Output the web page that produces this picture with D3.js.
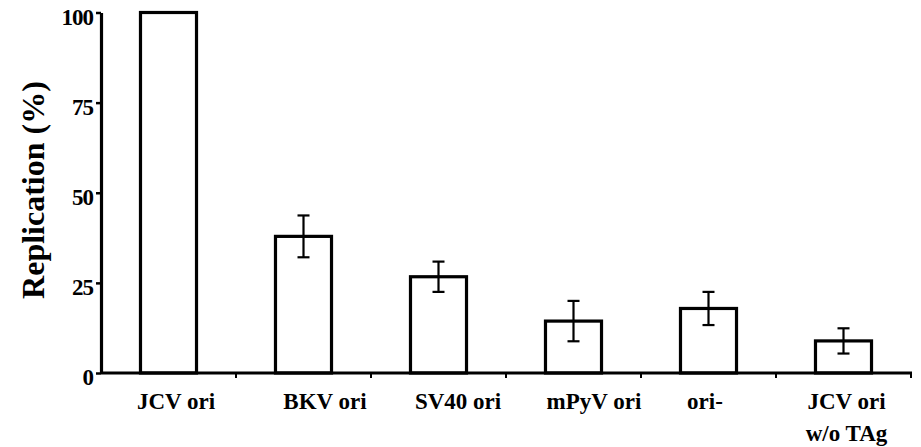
<!DOCTYPE html>
<html>
<head>
<meta charset="utf-8">
<script src="https://cdn.jsdelivr.net/npm/d3@7"></script>
<style>
  html, body { margin: 0; padding: 0; background: #fff; }
  svg { display: block; }
</style>
</head>
<body>
<svg id="chart" width="921" height="447"></svg>
<script>
// ---- data ----
const categories = ["JCV ori", "BKV ori", "SV40 ori", "mPyV ori", "ori-", "JCV ori\nw/o TAg"];
const values = [100, 37.9, 26.7, 14.4, 17.9, 8.9];
const errors = [0, 5.8, 4.2, 5.6, 4.6, 3.5];
const yTicks = [0, 25, 50, 75, 100];
const yTitle = "Replication (%)";

// ---- layout ----
const FONT = "'Liberation Serif', 'Times New Roman', Times, serif";
const svg = d3.select("#chart");
const x0 = 101, x1 = 911, yTop = 12.5, yBot = 373;
const labelDx = [7.5, 21.5, 19.5, 20.5, -3.5, 3];

const x = d3.scaleBand().domain(categories).range([x0, x1]).paddingInner(0.585).paddingOuter(0.2925);
const y = d3.scaleLinear().domain([0, 100]).range([yBot, yTop]);

// bars
svg.append("g").selectAll("rect").data(categories).join("rect")
  .attr("x", d => x(d))
  .attr("y", (d, i) => y(values[i]))
  .attr("width", x.bandwidth())
  .attr("height", (d, i) => y(0) - y(values[i]))
  .attr("fill", "#fff")
  .attr("stroke", "#000")
  .attr("stroke-width", 3.2);

// error bars
const eg = svg.append("g").attr("stroke", "#000").attr("stroke-width", 2.2);
categories.forEach((c, i) => {
  if (!errors[i]) return;
  const cx = x(c) + x.bandwidth() / 2;
  const hi = y(values[i] + errors[i]), lo = y(values[i] - errors[i]);
  eg.append("line").attr("x1", cx).attr("x2", cx).attr("y1", hi).attr("y2", lo);
  eg.append("line").attr("x1", cx - 6).attr("x2", cx + 6).attr("y1", hi).attr("y2", hi);
  eg.append("line").attr("x1", cx - 6).attr("x2", cx + 6).attr("y1", lo).attr("y2", lo);
});

// y axis
const yAxis = d3.axisLeft(y).tickValues(yTicks).tickSize(5).tickPadding(3).tickSizeOuter(0);
const ya = svg.append("g").attr("transform", `translate(${x0},0)`).call(yAxis)
  .attr("font-family", FONT).attr("font-size", 23).attr("font-weight", "bold");
ya.select(".domain").attr("stroke", "#000").attr("stroke-width", 3.2);
ya.selectAll(".tick line").attr("stroke", "#000").attr("stroke-width", 2.5);
ya.selectAll(".tick text").attr("dy", "0.5em").attr("fill", "#000")
  .style("font-family", FONT).style("font-weight", "bold").style("font-size", "23px")
  .style("letter-spacing", "-1px");

// x axis (ticks at band boundaries)
const boundaries = d3.range(categories.length + 1).map(i => x0 + i * (x1 - x0) / categories.length);
const xg = svg.append("g");
xg.append("line").attr("x1", x0).attr("x2", x1 + 1).attr("y1", yBot).attr("y2", yBot)
  .attr("stroke", "#000").attr("stroke-width", 3.2);
xg.selectAll("line.tk").data(boundaries.slice(1)).join("line").attr("class", "tk")
  .attr("x1", d => d).attr("x2", d => d).attr("y1", yBot).attr("y2", yBot + 5)
  .attr("stroke", "#000").attr("stroke-width", 2);

// category labels
categories.forEach((c, i) => {
  const cx = x(c) + x.bandwidth() / 2 + labelDx[i];
  const t = svg.append("text")
    .attr("x", cx)
    .attr("y", 409)
    .attr("text-anchor", "middle")
    .style("font-family", FONT).style("font-weight", "bold").style("font-size", "23px")
    .attr("fill", "#000");
  c.split("\n").forEach((line, k) => {
    t.append("tspan").attr("x", cx).attr("dy", k === 0 ? 0 : 32).text(line);
  });
});

// y title
svg.append("text")
  .attr("transform", `translate(44,190) rotate(-90)`)
  .attr("text-anchor", "middle")
  .style("font-family", FONT).style("font-weight", "bold").style("font-size", "32px")
  .attr("fill", "#000")
  .text(yTitle);
</script>
</body>
</html>
